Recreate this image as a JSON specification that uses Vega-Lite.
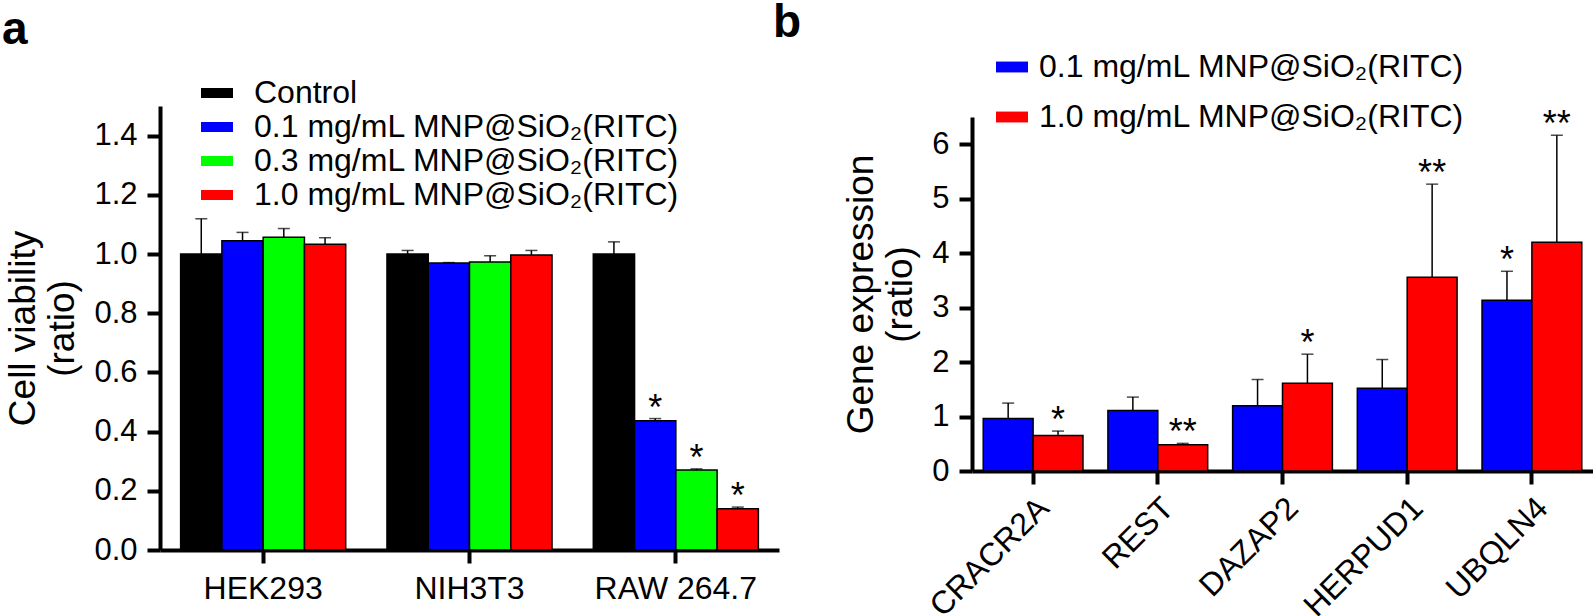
{
  "$schema": "https://vega.github.io/schema/vega-lite/v6.json",
  "background": "white",
  "padding": {"left": 2, "top": 0, "right": 0, "bottom": 0},
  "config": {
    "font": "Liberation Sans",
    "view": {"stroke": null},
    "axis": {"domainColor": "black", "domainWidth": 4, "tickColor": "black", "tickWidth": 4, "tickSize": 13, "labelColor": "black", "titleColor": "black", "grid": false, "titleFontWeight": "normal"},
    "legend": {"labelColor": "black", "labelLimit": 0},
    "title": {"color": "black"}
  },
  "bounds": "flush",
  "spacing": 193,
  "resolve": {"scale": {"color": "independent", "xOffset": "independent", "x": "independent", "y": "independent"}, "legend": {"color": "independent"}},
  "hconcat": [
    {
      "width": 619,
      "height": 444,
      "title": {"text": "a", "anchor": "start", "frame": "group", "dx": -158, "dy": -19, "fontSize": 46, "fontWeight": "bold"},
      "data": {"values": [
        {"cell": "HEK293", "treatment": "Control", "value": 1.0, "upper": 1.119, "sig": ""},
        {"cell": "HEK293", "treatment": "0.1 mg/mL MNP@SiO₂(RITC)", "value": 1.045, "upper": 1.073, "sig": ""},
        {"cell": "HEK293", "treatment": "0.3 mg/mL MNP@SiO₂(RITC)", "value": 1.057, "upper": 1.086, "sig": ""},
        {"cell": "HEK293", "treatment": "1.0 mg/mL MNP@SiO₂(RITC)", "value": 1.033, "upper": 1.055, "sig": ""},
        {"cell": "NIH3T3", "treatment": "Control", "value": 1.0, "upper": 1.012, "sig": ""},
        {"cell": "NIH3T3", "treatment": "0.1 mg/mL MNP@SiO₂(RITC)", "value": 0.970, "upper": 0.971, "sig": ""},
        {"cell": "NIH3T3", "treatment": "0.3 mg/mL MNP@SiO₂(RITC)", "value": 0.973, "upper": 0.994, "sig": ""},
        {"cell": "NIH3T3", "treatment": "1.0 mg/mL MNP@SiO₂(RITC)", "value": 0.997, "upper": 1.012, "sig": ""},
        {"cell": "RAW 264.7", "treatment": "Control", "value": 1.0, "upper": 1.041, "sig": ""},
        {"cell": "RAW 264.7", "treatment": "0.1 mg/mL MNP@SiO₂(RITC)", "value": 0.437, "upper": 0.444, "sig": "*"},
        {"cell": "RAW 264.7", "treatment": "0.3 mg/mL MNP@SiO₂(RITC)", "value": 0.270, "upper": 0.274, "sig": "*"},
        {"cell": "RAW 264.7", "treatment": "1.0 mg/mL MNP@SiO₂(RITC)", "value": 0.139, "upper": 0.145, "sig": "*"}
      ]},
      "encoding": {
        "x": {"field": "cell", "type": "nominal", "sort": ["HEK293", "NIH3T3", "RAW 264.7"], "scale": {"paddingInner": 0.2, "paddingOuter": 0.1}, "axis": {"title": null, "labelAngle": 0, "labelFontSize": 32, "labelPadding": 10}},
        "xOffset": {"field": "treatment", "type": "nominal", "scale": {"domain": ["Control", "0.1 mg/mL MNP@SiO₂(RITC)", "0.3 mg/mL MNP@SiO₂(RITC)", "1.0 mg/mL MNP@SiO₂(RITC)"]}}
      },
      "layer": [
        {
          "mark": {"type": "bar", "stroke": "black", "strokeWidth": 1.5},
          "encoding": {
            "y": {"field": "value", "type": "quantitative", "scale": {"domain": [0, 1.5], "nice": false}, "axis": {"values": [0, 0.2, 0.4, 0.6, 0.8, 1.0, 1.2, 1.4], "format": ".1f", "title": ["Cell viability", "(ratio)"], "titleFontSize": 37, "labelFontSize": 31, "labelPadding": 10, "titlePadding": 12}},
            "color": {"field": "treatment", "type": "nominal", "scale": {"domain": ["Control", "0.1 mg/mL MNP@SiO₂(RITC)", "0.3 mg/mL MNP@SiO₂(RITC)", "1.0 mg/mL MNP@SiO₂(RITC)"], "range": ["#000000", "#0000ff", "#00ff00", "#ff0000"]},
              "legend": {"orient": "none", "legendX": 41, "legendY": -29, "title": null, "labelFontSize": 32, "labelLimit": 0, "symbolType": "M-1,-0.3125H1V0.3125H-1Z", "symbolSize": 1024, "symbolStrokeWidth": 0, "rowPadding": 2, "labelOffset": 21, "padding": 0}}
          }
        },
        {
          "mark": {"type": "rule", "color": "black", "strokeWidth": 1.5},
          "encoding": {"y": {"field": "value", "type": "quantitative"}, "y2": {"field": "upper"}}
        },
        {
          "mark": {"type": "tick", "color": "black", "thickness": 1.5, "size": 12},
          "encoding": {"y": {"field": "upper", "type": "quantitative"}}
        },
        {
          "mark": {"type": "text", "fontSize": 36, "baseline": "alphabetic", "dy": 1, "color": "black"},
          "encoding": {"y": {"field": "upper", "type": "quantitative"}, "text": {"field": "sig"}}
        }
      ]
    },
    {
      "width": 621,
      "height": 365,
      "title": {"text": "b", "anchor": "start", "frame": "group", "dx": -199, "fontSize": 46, "fontWeight": "bold"},
      "data": {"values": [
        {"gene": "CRACR2A", "treatment": "0.1 mg/mL MNP@SiO₂(RITC)", "value": 0.966, "upper": 1.247, "sig": ""},
        {"gene": "CRACR2A", "treatment": "1.0 mg/mL MNP@SiO₂(RITC)", "value": 0.654, "upper": 0.733, "sig": "*"},
        {"gene": "REST", "treatment": "0.1 mg/mL MNP@SiO₂(RITC)", "value": 1.112, "upper": 1.357, "sig": ""},
        {"gene": "REST", "treatment": "1.0 mg/mL MNP@SiO₂(RITC)", "value": 0.483, "upper": 0.507, "sig": "**"},
        {"gene": "DAZAP2", "treatment": "0.1 mg/mL MNP@SiO₂(RITC)", "value": 1.198, "upper": 1.68, "sig": ""},
        {"gene": "DAZAP2", "treatment": "1.0 mg/mL MNP@SiO₂(RITC)", "value": 1.613, "upper": 2.145, "sig": "*"},
        {"gene": "HERPUD1", "treatment": "0.1 mg/mL MNP@SiO₂(RITC)", "value": 1.52, "upper": 2.047, "sig": ""},
        {"gene": "HERPUD1", "treatment": "1.0 mg/mL MNP@SiO₂(RITC)", "value": 3.556, "upper": 5.267, "sig": "**"},
        {"gene": "UBQLN4", "treatment": "0.1 mg/mL MNP@SiO₂(RITC)", "value": 3.135, "upper": 3.667, "sig": "*"},
        {"gene": "UBQLN4", "treatment": "1.0 mg/mL MNP@SiO₂(RITC)", "value": 4.198, "upper": 6.165, "sig": "**"}
      ]},
      "encoding": {
        "x": {"field": "gene", "type": "nominal", "sort": ["CRACR2A", "REST", "DAZAP2", "HERPUD1", "UBQLN4"], "scale": {"paddingInner": 0.2, "paddingOuter": 0.09}, "axis": {"title": null, "labelAngle": -45, "labelFontSize": 32, "labelPadding": 8}},
        "xOffset": {"field": "treatment", "type": "nominal", "scale": {"domain": ["0.1 mg/mL MNP@SiO₂(RITC)", "1.0 mg/mL MNP@SiO₂(RITC)"]}}
      },
      "layer": [
        {
          "mark": {"type": "bar", "stroke": "black", "strokeWidth": 1.5},
          "encoding": {
            "y": {"field": "value", "type": "quantitative", "scale": {"domain": [0, 6.5], "range": [365, 11], "nice": false}, "axis": {"values": [0, 1, 2, 3, 4, 5, 6], "format": "d", "title": ["Gene expression", "(ratio)"], "titleFontSize": 37, "labelFontSize": 31, "labelPadding": 10, "titlePadding": 12}},
            "color": {"field": "treatment", "type": "nominal", "scale": {"domain": ["0.1 mg/mL MNP@SiO₂(RITC)", "1.0 mg/mL MNP@SiO₂(RITC)"], "range": ["#0000ff", "#ff0000"]},
              "legend": {"orient": "none", "legendX": 24, "legendY": -55, "title": null, "labelFontSize": 32, "labelLimit": 0, "symbolType": "M-1,-0.34H1V0.34H-1Z", "symbolSize": 1024, "symbolStrokeWidth": 0, "rowPadding": 18, "labelOffset": 11, "padding": 0}}
          }
        },
        {
          "mark": {"type": "rule", "color": "black", "strokeWidth": 1.5},
          "encoding": {"y": {"field": "value", "type": "quantitative"}, "y2": {"field": "upper"}}
        },
        {
          "mark": {"type": "tick", "color": "black", "thickness": 1.5, "size": 12},
          "encoding": {"y": {"field": "upper", "type": "quantitative"}}
        },
        {
          "mark": {"type": "text", "fontSize": 36, "baseline": "alphabetic", "dy": 1, "color": "black"},
          "encoding": {"y": {"field": "upper", "type": "quantitative"}, "text": {"field": "sig"}}
        }
      ]
    }
  ]
}
